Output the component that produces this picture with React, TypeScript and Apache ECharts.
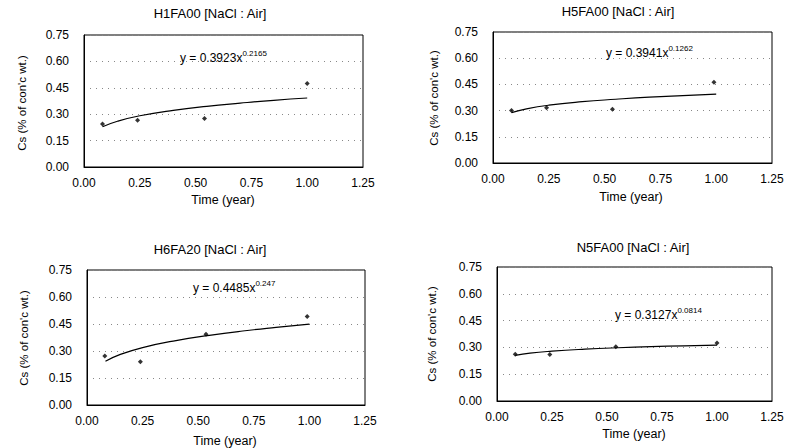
import React, { useEffect, useRef } from "react";
import * as echarts from "echarts";

const titles = ["H1FA00 [NaCl : Air]", "H5FA00 [NaCl : Air]", "H6FA20 [NaCl : Air]", "N5FA00 [NaCl : Air]"];
const eqMain = ["y = 0.3923x", "y = 0.3941x", "y = 0.4485x", "y = 0.3127x"];
const eqExp = ["0.2165", "0.1262", "0.247", "0.0814"];

const xTicks = [0, 0.25, 0.5, 0.75, 1.0, 1.25];
const yTicks = [0, 0.15, 0.3, 0.45, 0.6, 0.75];

// measured points (time in years, Cs)
const p1x = [0.083, 0.24, 0.54, 1.0];
const p1y = [0.245, 0.265, 0.275, 0.475];
const p2x = [0.083, 0.24, 0.535, 0.99];
const p2y = [0.3, 0.316, 0.308, 0.462];
const p3x = [0.08, 0.24, 0.535, 0.99];
const p3y = [0.272, 0.24, 0.393, 0.492];
const p4x = [0.083, 0.24, 0.54, 1.0];
const p4y = [0.262, 0.26, 0.303, 0.325];

// trend lines
const trendX = [0.083, 0.15, 0.25, 0.4, 0.55, 0.7, 0.85, 1.0];
const t1y = [0.229, 0.26, 0.291, 0.322, 0.345, 0.363, 0.379, 0.392];
const t2y = [0.288, 0.31, 0.331, 0.351, 0.365, 0.377, 0.386, 0.394];
const t3y = [0.243, 0.281, 0.319, 0.358, 0.387, 0.411, 0.431, 0.449];
const t4y = [0.255, 0.268, 0.279, 0.29, 0.298, 0.304, 0.309, 0.313];

const px = [p1x, p2x, p3x, p4x];
const py = [p1y, p2y, p3y, p4y];
const ty = [t1y, t2y, t3y, t4y];

const grids = [
  { left: 84, top: 35, width: 279, height: 132 },
  { left: 493, top: 32, width: 279, height: 131 },
  { left: 87, top: 270, width: 278, height: 135 },
  { left: 497, top: 267, width: 275, height: 134 },
];
const titlePos = [[210, 13], [618, 11], [210, 249], [633, 247]];
const yNamePos = [[22, 103], [434, 98], [24, 338], [432, 334]];
const xNamePos = [[223, 200], [631, 197], [225, 441], [634, 434]];
const eqPos = [[180, 64], [606, 59], [193, 294], [615, 321]];

const FONT = "'Liberation Sans', Arial, sans-serif";

export default function App() {
  const ref = useRef<HTMLDivElement>(null);
  useEffect(() => {
    if (!ref.current) return;
    const chart = echarts.init(ref.current, null, { renderer: "svg" });
    const graphic: any[] = [];
    for (let i = 0; i < 4; i++) {
      graphic.push({
        type: "text", x: titlePos[i][0], y: titlePos[i][1],
        style: { text: titles[i], font: `13px ${FONT}`, fill: "#000", textAlign: "center", textVerticalAlign: "middle" },
      });
      graphic.push({
        type: "text", x: yNamePos[i][0], y: yNamePos[i][1], rotation: Math.PI / 2,
        style: { text: "Cs (% of con'c wt.)", font: `11.5px ${FONT}`, fill: "#000", textAlign: "center", textVerticalAlign: "middle" },
      });
      graphic.push({
        type: "text", x: xNamePos[i][0], y: xNamePos[i][1],
        style: { text: "Time (year)", font: `12.5px ${FONT}`, fill: "#000", textAlign: "center", textVerticalAlign: "middle" },
      });
      graphic.push({
        type: "text", x: eqPos[i][0], y: eqPos[i][1],
        style: {
          text: `{a|${eqMain[i]}}{b|${eqExp[i]}}`,
          textVerticalAlign: "bottom",
          rich: {
            a: { fontSize: 12, fontFamily: FONT, fill: "#000", lineHeight: 15, verticalAlign: "bottom" },
            b: { fontSize: 8, fontFamily: FONT, fill: "#000", lineHeight: 15, verticalAlign: "top" },
          },
        },
      });
    }
    const series: any[] = [];
    for (let i = 0; i < 4; i++) {
      series.push({
        type: "line", xAxisIndex: i, yAxisIndex: i, smooth: true, showSymbol: false,
        data: trendX.map((x, k) => [x, ty[i][k]]),
        lineStyle: { color: "#000", width: 1.2 }, silent: true,
      });
      series.push({
        type: "scatter", xAxisIndex: i, yAxisIndex: i, symbol: "diamond", symbolSize: 5,
        data: px[i].map((x, k) => [x, py[i][k]]),
        itemStyle: { color: "#000" },
      });
    }
    chart.setOption({
      animation: false,
      backgroundColor: "#fff",
      grid: grids.map((g) => ({ ...g, show: true, borderColor: "#000", borderWidth: 1, containLabel: false })),
      xAxis: grids.map((_, i) => ({
        type: "value", gridIndex: i, min: xTicks[0], max: xTicks[xTicks.length - 1], interval: 0.25,
        axisLine: { show: true, lineStyle: { color: "#000" } },
        axisTick: { show: false },
        splitLine: { show: false },
        axisLabel: { color: "#000", fontSize: 12, fontFamily: FONT, margin: 10, formatter: (v: number) => v.toFixed(2) },
      })),
      yAxis: grids.map((_, i) => ({
        type: "value", gridIndex: i, min: yTicks[0], max: yTicks[yTicks.length - 1], interval: 0.15,
        axisLine: { show: true, lineStyle: { color: "#000" } },
        axisTick: { show: false },
        splitLine: { show: true, lineStyle: { color: "#888", type: [1, 5], width: 1 } },
        axisLabel: { color: "#000", fontSize: 12, fontFamily: FONT, margin: 15, formatter: (v: number) => v.toFixed(2) },
      })),
      series,
      graphic,
    });
    return () => chart.dispose();
  }, []);
  return <div ref={ref} style={{ position: "fixed", left: 0, top: 0, width: 808, height: 448 }} />;
}
